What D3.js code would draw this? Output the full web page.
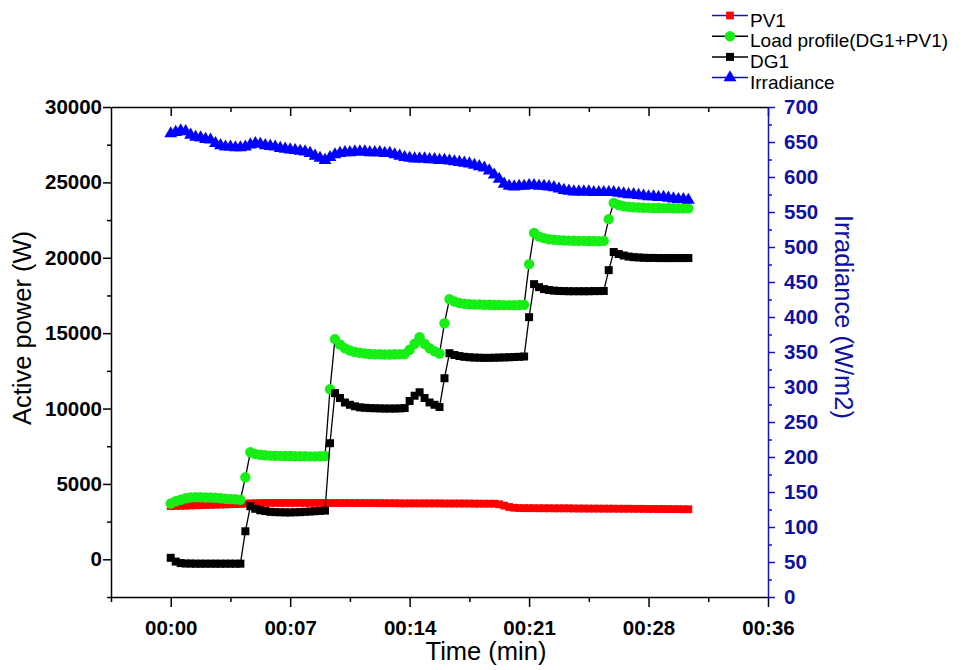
<!DOCTYPE html>
<html>
<head>
<meta charset="utf-8">
<script src="https://cdn.jsdelivr.net/npm/d3@7"></script>
<style>
  html, body { margin: 0; padding: 0; background: #fff; }
  svg { display: block; }
  text { font-family: "Liberation Sans", Arial, sans-serif; }
</style>
</head>
<body>
<svg id="chart" width="966" height="670"></svg>
<script>
// ---------------- DATA ----------------
const timeMin = [0,0.3,0.6,0.9,1.2,1.5,1.8,2.1,2.4,2.7,3,3.3,3.6,3.9,4.2,4.5,4.8,5.1,5.4,5.7,6,6.3,6.6,6.9,7.2,7.5,7.8,8.1,8.4,8.7,9,9.3,9.6,9.9,10.2,10.5,10.8,11.1,11.4,11.7,12,12.3,12.6,12.9,13.2,13.5,13.8,14.1,14.4,14.7,15,15.3,15.6,15.9,16.2,16.5,16.8,17.1,17.4,17.7,18,18.3,18.6,18.9,19.2,19.5,19.8,20.1,20.4,20.7,21,21.3,21.6,21.9,22.2,22.5,22.8,23.1,23.4,23.7,24,24.3,24.6,24.9,25.2,25.5,25.8,26.1,26.4,26.7,27,27.3,27.6,27.9,28.2,28.5,28.8,29.1,29.4,29.7,30,30.3,30.6,30.9,31.2];

const pv1 = [3530,3540,3550,3560,3570,3580,3590,3600,3610,3620,3630,3640,3650,3660,3670,3690,3710,3720,3730,3740,3740,3740,3740,3740,3740,3740,3740,3740,3740,3740,3740,3740,3730,3730,3730,3730,3730,3730,3725,3725,3725,3725,3720,3720,3720,3720,3710,3710,3710,3710,3710,3710,3710,3710,3710,3700,3700,3700,3700,3700,3700,3690,3690,3690,3690,3690,3650,3560,3470,3420,3400,3390,3390,3390,3385,3385,3385,3380,3380,3380,3380,3370,3370,3370,3365,3365,3365,3360,3360,3360,3355,3355,3355,3350,3350,3350,3340,3340,3335,3335,3330,3330,3325,3320,3320];

const loadProfile = [3700,3850,3950,4050,4100,4120,4120,4100,4100,4080,4050,4020,4000,3980,3950,5440,7100,6980,6930,6900,6880,6870,6860,6850,6850,6840,6840,6840,6830,6830,6840,6850,11280,14600,14250,14000,13850,13750,13700,13650,13620,13600,13600,13580,13580,13600,13600,13620,13900,14300,14730,14300,14000,13800,13650,15660,17250,17100,17000,16950,16920,16900,16900,16880,16880,16870,16870,16860,16860,16860,16870,16880,19580,21640,21400,21300,21230,21200,21170,21150,21140,21130,21120,21120,21110,21110,21100,21120,22560,23630,23500,23420,23380,23350,23330,23320,23310,23300,23300,23290,23290,23280,23280,23280,23280];

const dg1 = [100,-150,-250,-280,-280,-290,-290,-290,-290,-290,-290,-290,-290,-290,-290,1860,3520,3350,3250,3200,3150,3130,3120,3110,3110,3120,3130,3150,3170,3190,3210,3230,7700,11020,10700,10400,10250,10150,10080,10050,10030,10020,10010,10000,10000,10000,10010,10030,10500,10850,11080,10700,10400,10250,10100,12010,13670,13550,13480,13430,13400,13380,13370,13360,13360,13370,13380,13390,13400,13420,13430,13450,16060,18250,18050,17920,17860,17820,17800,17790,17780,17780,17780,17780,17780,17790,17790,17800,19180,20380,20250,20150,20080,20040,20020,20000,19990,19990,19980,19980,19980,19980,19980,19980,19980];

const irradiance = [662,664,666,665,660,657,656,654,653,648,645,643,643,642,642,643,646,648,647,645,644,643,641,640,639,638,637,636,634,630,627,624,628,632,634,635,635,636,636,636,635,635,635,634,634,632,630,628,627,626,626,626,625,625,624,624,623,622,621,620,619,617,615,613,609,603,597,590,587,586,587,587,588,588,587,587,586,585,583,581,580,579,579,579,579,578,578,578,578,578,577,576,575,575,574,573,572,572,571,571,570,569,568,568,567];

const xTickValues = [0, 7.2, 14.4, 21.6, 28.8, 36];
const xTickLabels = ["00:00", "00:07", "00:14", "00:21", "00:28", "00:36"];
const xMinorTicks = [-3.6, 3.6, 10.8, 18, 25.2, 32.4];
const leftTicks = [0, 5000, 10000, 15000, 20000, 25000, 30000];
const leftMinorTicks = [-2500, 2500, 7500, 12500, 17500, 22500, 27500];
const rightTicks = [0, 50, 100, 150, 200, 250, 300, 350, 400, 450, 500, 550, 600, 650, 700];
const rightMinorTicks = [25, 75, 125, 175, 225, 275, 325, 375, 425, 475, 525, 575, 625, 675];
const seriesNames = ["PV1", "Load profile(DG1+PV1)", "DG1", "Irradiance"];

const xTitle = "Time (min)";
const yLeftTitle = "Active power (W)";
const yRightTitle = "Irradiance (W/m2)";

// ---------------- STYLE / LAYOUT ----------------
const svg = d3.select("#chart");
const L = 111, R = 768, T = 107, B = 597;
const axisBlue = "#1212c8";
const labelBlue = "#0f0fa0";

const x = d3.scaleLinear().domain([-3.6, 36]).range([L, R]);
const yL = d3.scaleLinear().domain([-2500, 30000]).range([B, T]);
const yR = d3.scaleLinear().domain([0, 700]).range([B, T]);

const styles = [
  { name: seriesNames[0], values: pv1, scale: yL, line: "#1a1aa0", fill: "#ff0000", sym: d3.symbolSquare, size: 60 },
  { name: seriesNames[1], values: loadProfile, scale: yL, line: "#000000", fill: "#16ee16", sym: d3.symbolCircle, size: 85 },
  { name: seriesNames[2], values: dg1, scale: yL, line: "#000000", fill: "#000000", sym: d3.symbolSquare, size: 64 },
  { name: seriesNames[3], values: irradiance, scale: yR, line: "#0000ff", fill: "#0000ff", sym: d3.symbolTriangle, size: 72 }
];

// ---------------- SERIES ----------------
const plot = svg.append("g");
styles.forEach(s => {
  const pts = timeMin.map((t, i) => [t, s.values[i]]);
  const line = d3.line().x(d => x(d[0])).y(d => s.scale(d[1]));
  const g = plot.append("g");
  g.append("path").attr("d", line(pts)).attr("fill", "none")
    .attr("stroke", s.line).attr("stroke-width", 1.3);
  const sym = d3.symbol().type(s.sym).size(s.size);
  g.selectAll("path.m").data(pts).join("path").attr("class", "m")
    .attr("d", sym())
    .attr("transform", d => `translate(${x(d[0])},${s.scale(d[1])})`)
    .attr("fill", s.fill).attr("stroke", "none");
});

// ---------------- AXES ----------------
const tickFont = g => g.selectAll("text")
  .style("font-family", '"Liberation Sans", Arial, sans-serif')
  .style("font-size", "20.5px").style("font-weight", "bold");

// bottom
const gB = svg.append("g").attr("transform", `translate(0,${B})`)
  .call(d3.axisBottom(x).tickValues(xTickValues).tickFormat((d, i) => xTickLabels[i]).tickSize(10).tickSizeOuter(0))
  .call(tickFont);
gB.selectAll("text").attr("y", 38).attr("dy", 0).attr("fill", "#000");
gB.select(".domain").attr("stroke", "#000").attr("stroke-width", 1.5);
gB.selectAll(".tick line").attr("stroke", "#000").attr("stroke-width", 1.5);
svg.append("g").attr("transform", `translate(0,${B})`)
  .call(d3.axisBottom(x).tickValues(xMinorTicks).tickFormat("").tickSize(5).tickSizeOuter(0))
  .call(g => g.select(".domain").remove())
  .selectAll("line").attr("stroke-width", 1.5);

// top (inward ticks)
const gT = svg.append("g").attr("transform", `translate(0,${T})`)
  .call(d3.axisTop(x).tickValues(xTickValues).tickFormat("").tickSize(-9).tickSizeOuter(0));
gT.select(".domain").attr("stroke-width", 1.5);
gT.selectAll("line").attr("stroke-width", 1.5);
svg.append("g").attr("transform", `translate(0,${T})`)
  .call(d3.axisTop(x).tickValues(xMinorTicks.filter(v => v > -3.6)).tickFormat("").tickSize(-5).tickSizeOuter(0))
  .call(g => g.select(".domain").remove())
  .selectAll("line").attr("stroke-width", 1.5);

// left
const gL = svg.append("g").attr("transform", `translate(${L},0)`)
  .call(d3.axisLeft(yL).tickValues(leftTicks).tickFormat(d3.format("d")).tickSize(8).tickPadding(1).tickSizeOuter(0))
  .call(tickFont);
gL.select(".domain").attr("stroke-width", 1.5);
gL.selectAll(".tick line").attr("stroke-width", 1.5);
gL.selectAll("text").attr("fill", "#000");
svg.append("g").attr("transform", `translate(${L},0)`)
  .call(d3.axisLeft(yL).tickValues(leftMinorTicks).tickFormat("").tickSize(4).tickSizeOuter(0))
  .call(g => g.select(".domain").remove())
  .selectAll("line").attr("stroke-width", 1.5);

// right
const gR = svg.append("g").attr("transform", `translate(${R},0)`)
  .call(d3.axisRight(yR).tickValues(rightTicks).tickFormat(d3.format("d")).tickSize(7).tickPadding(9).tickSizeOuter(0))
  .call(tickFont);
gR.select(".domain").attr("stroke", axisBlue).attr("stroke-width", 1.5);
gR.selectAll(".tick line").attr("stroke", axisBlue).attr("stroke-width", 1.5);
gR.selectAll("text").attr("fill", labelBlue);
svg.append("g").attr("transform", `translate(${R},0)`)
  .call(d3.axisRight(yR).tickValues(rightMinorTicks).tickFormat("").tickSize(4).tickSizeOuter(0))
  .call(g => g.select(".domain").remove())
  .selectAll("line").attr("stroke", axisBlue).attr("stroke-width", 1.5);

// ---------------- TITLES ----------------
svg.append("text").attr("x", 486).attr("y", 660).attr("text-anchor", "middle")
  .style("font-size", "25.5px").attr("fill", "#000").text(xTitle);
svg.append("text").attr("transform", "translate(31,328) rotate(-90)").attr("text-anchor", "middle")
  .style("font-size", "25.5px").attr("fill", "#000").text(yLeftTitle);
svg.append("text").attr("transform", "translate(835,317) rotate(90)").attr("text-anchor", "middle")
  .style("font-size", "25.5px").attr("fill", labelBlue).text(yRightTitle);

// ---------------- LEGEND ----------------
const legend = svg.append("g");
styles.forEach((s, i) => {
  const base = 26.5 + i * 20.7;
  const my = base - 11;
  legend.append("line").attr("x1", 712).attr("x2", 748).attr("y1", my).attr("y2", my)
    .attr("stroke", s.line).attr("stroke-width", 1.5);
  legend.append("path").attr("d", d3.symbol().type(s.sym).size(s.size)())
    .attr("transform", `translate(730,${my})`).attr("fill", s.fill);
  legend.append("text").attr("x", 750).attr("y", base)
    .style("font-size", "19px").attr("fill", "#000").text(s.name);
});
</script>
</body>
</html>
